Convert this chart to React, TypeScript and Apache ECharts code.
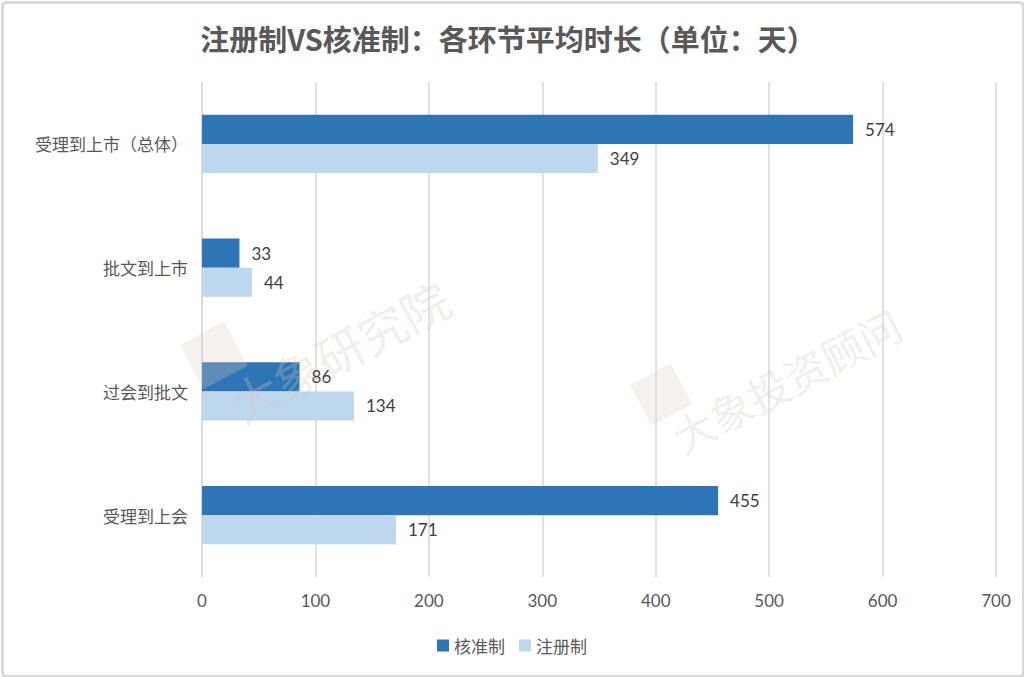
import React, { useEffect, useRef } from "react";
import * as echarts from "echarts";

const categories = ["受理到上市（总体）", "批文到上市", "过会到批文", "受理到上会"];
const hezhunValues = [574, 33, 86, 455];
const zhuceValues = [349, 44, 134, 171];
const seriesNames = ["核准制", "注册制"];
const xTicks = { min: 0, max: 700, interval: 100 };

export default function App() {
  const ref = useRef<HTMLDivElement>(null);
  useEffect(() => {
    if (!ref.current) return;
    const chart = echarts.init(ref.current, undefined, { renderer: "svg" });
    const font = "'Noto Sans CJK SC', 'Noto Sans', sans-serif";
    const numFont = "Lato, sans-serif";
    const rot = (28 * Math.PI) / 180;
    const wmFill = "rgba(214,200,182,0.3)";
    chart.setOption({
      animation: false,
      backgroundColor: "#ffffff",
      title: {
        text: "注册制VS核准制：各环节平均时长（单位：天）",
        left: 503,
        textAlign: "center",
        top: 18,
        textStyle: { fontSize: 29, fontWeight: "bold", color: "#595959", fontFamily: font },
      },
      legend: {
        bottom: 18,
        left: "center",
        itemWidth: 12,
        itemHeight: 12,
        itemGap: 14,
        icon: "rect",
        textStyle: { fontSize: 17, color: "#595959", fontFamily: font },
        data: seriesNames,
      },
      grid: { left: 202, right: 28, top: 82, bottom: 100, containLabel: false },
      xAxis: {
        type: "value",
        min: xTicks.min,
        max: xTicks.max,
        interval: xTicks.interval,
        axisLine: { show: false },
        axisTick: { show: false },
        axisLabel: { fontSize: 17, color: "#595959", margin: 15, fontFamily: numFont },
        splitLine: { lineStyle: { color: "#d9d9d9", width: 1.5 } },
      },
      yAxis: {
        type: "category",
        inverse: true,
        data: categories,
        axisLine: { show: true, lineStyle: { color: "#d9d9d9", width: 1.5 } },
        axisTick: { show: false },
        axisLabel: { fontSize: 17, color: "#595959", margin: 14, fontFamily: font },
      },
      graphic: [
        {
          type: "rect",
          left: 0,
          top: 0,
          shape: { width: 1021, height: 674, r: 4 },
          style: { fill: "none", stroke: "#d9d9d9", lineWidth: 3 },
          silent: true,
        },
        {
          type: "rect",
          x: 180,
          y: 345,
          rotation: rot,
          shape: { width: 50, height: 50 },
          style: { fill: "rgba(218,206,190,0.28)" },
          silent: true,
          z: 100,
        },
        {
          type: "text",
          x: 222,
          y: 385,
          rotation: rot,
          style: { text: "大象研究院", fontSize: 48, fill: wmFill, fontFamily: font },
          silent: true,
          z: 100,
        },
        {
          type: "rect",
          x: 630,
          y: 385,
          rotation: rot,
          shape: { width: 46, height: 46 },
          style: { fill: "rgba(218,206,190,0.28)" },
          silent: true,
          z: 100,
        },
        {
          type: "text",
          x: 665,
          y: 420,
          rotation: rot,
          style: { text: "大象投资顾问", fontSize: 42, fill: wmFill, fontFamily: font },
          silent: true,
          z: 100,
        },
      ],
      series: [
        {
          name: seriesNames[0],
          type: "bar",
          data: hezhunValues,
          barGap: "0%",
          barCategoryGap: "53%",
          itemStyle: { color: "#2E75B6" },
          label: { show: true, position: "right", distance: 12, fontSize: 17, color: "#404040", fontFamily: numFont },
        },
        {
          name: seriesNames[1],
          type: "bar",
          data: zhuceValues,
          barGap: "0%",
          barCategoryGap: "53%",
          itemStyle: { color: "#BDD7EE" },
          label: { show: true, position: "right", distance: 12, fontSize: 17, color: "#404040", fontFamily: numFont },
        },
      ],
    });
    return () => chart.dispose();
  }, []);
  return <div ref={ref} style={{ position: "fixed", left: 0, top: 0, width: 1024, height: 677 }} />;
}
